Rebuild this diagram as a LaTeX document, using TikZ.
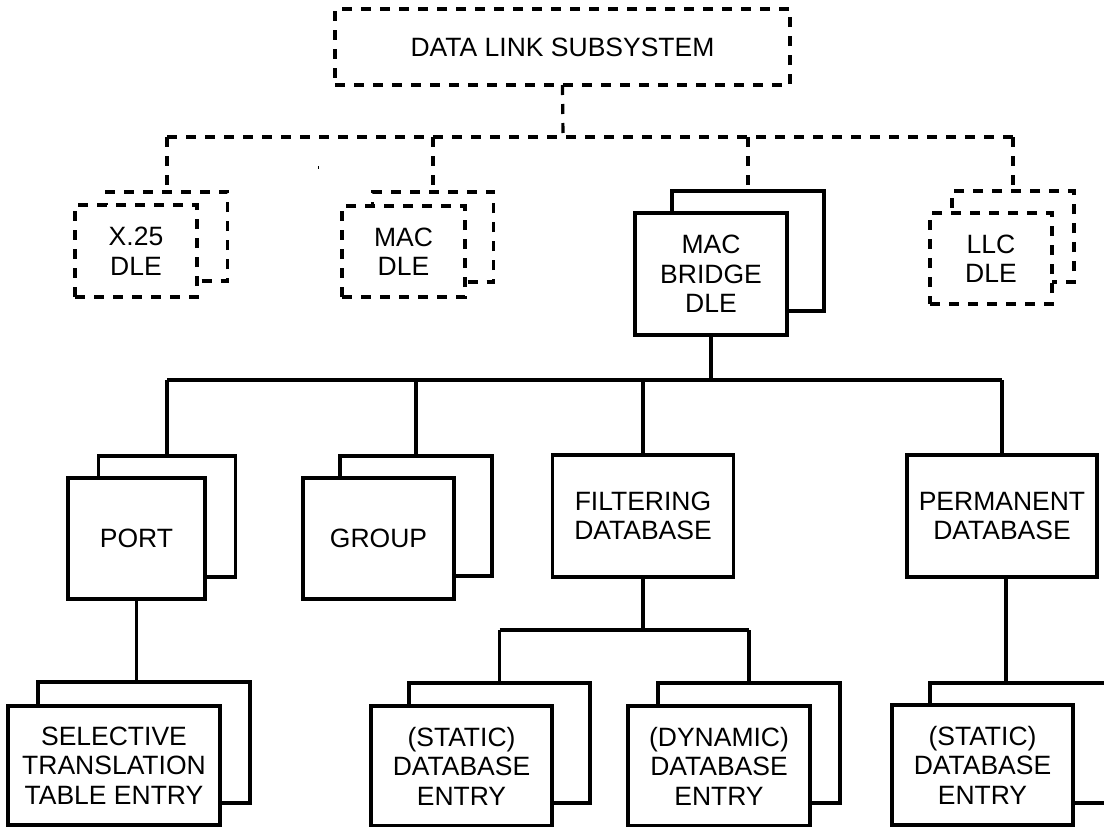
\documentclass[tikz,border=0pt]{standalone}
\usepackage{fontspec}
\setmainfont{Liberation Sans}
\begin{document}
\begin{tikzpicture}[x=1pt,y=-1pt,
  line width=3.2pt,
  box/.style={draw, fill=white, rectangle, inner sep=0pt, outer sep=0pt, align=center,
    font=\fontsize{26.5}{29.5}\selectfont},
  dl/.style={dash pattern=on 10pt off 9pt},
  sz/.style 2 args={minimum width=#1pt, minimum height=#2pt}
]
\useasboundingbox (0,0) rectangle (1104,827);
\clip (0,0) rectangle (1104,827);

% top
\node[box,dl,sz={455}{76}] (top) at (562.5,47) {DATA LINK SUBSYSTEM};

% DLE level
\node[box,dl,sz={121}{89}] (x25b) at (167,236.5) {};
\node[box,dl,sz={122}{92}] (x25f) at (136,251) {X.25\\DLE};
\node[box,dl,sz={121}{90}] (macb) at (433,237) {};
\node[box,dl,sz={123}{91}] (macf) at (403.5,251.5) {MAC\\DLE};
\node[box,sz={152}{120}] (mbb) at (748,251) {};
\node[box,sz={152}{122}] (mbf) at (711,274) {MAC\\BRIDGE\\DLE};
\node[box,dl,sz={122}{91}] (llcb) at (1013,236.5) {};
\node[box,dl,sz={122}{91}] (llcf) at (991,258.5) {LLC\\DLE};

% second level
\node[box,sz={137}{121}] (portb) at (167,516.5) {};
\node[box,sz={137}{121}] (portf) at (136.5,538.5) {PORT};
\node[box,sz={152}{120}] (groupb) at (416,516) {};
\node[box,sz={151}{121}] (groupf) at (378.5,538.5) {GROUP};
\node[box,sz={181}{122}] (filt) at (643,516) {FILTERING\\DATABASE};
\node[box,sz={190}{122}] (perm) at (1002,516) {PERMANENT\\DATABASE};

% third level
\node[box,sz={212}{121}] (selb) at (144,742.5) {};
\node[box,sz={212}{119}] (self) at (114,765.5) {SELECTIVE\\TRANSLATION\\TABLE ENTRY};
\node[box,sz={181}{120}] (statb) at (499.5,743) {};
\node[box,sz={181}{120}] (statf) at (461.5,766) {(STATIC)\\DATABASE\\ENTRY};
\node[box,sz={182}{120}] (dynb) at (749,743) {};
\node[box,sz={182}{120}] (dynf) at (719,766) {(DYNAMIC)\\DATABASE\\ENTRY};
\node[box,sz={181}{120}] (stbb) at (1020.5,743) {};
\node[box,sz={181}{120}] (stbf) at (982.5,765) {(STATIC)\\DATABASE\\ENTRY};

% dashed connectors
\coordinate (b1) at (563,137);
\draw[dl] (top.south) -- (b1);
\draw[dl] (x25b.north |- b1) -- (llcb.north |- b1);
\draw[dl] (x25b.north |- b1) -- (x25b.north);
\draw[dl] (macb.north |- b1) -- (macb.north);
\draw[dl] (mbb.north |- b1) -- (mbb.north);
\draw[dl] (llcb.north |- b1) -- (llcb.north);
\draw[line width=1pt] (318,166) -- (318,169);

% solid connectors
\coordinate (b2) at (711,380);
\draw (mbf.south) -- (b2);
\draw (portb.north |- b2) -- (perm.north |- b2);
\draw (portb.north |- b2) -- (portb.north);
\draw (groupb.north |- b2) -- (groupb.north);
\draw (filt.north |- b2) -- (filt.north);
\draw (perm.north |- b2) -- (perm.north);

\draw (portf.south) -- (portf.south |- selb.north);
\coordinate (b3) at (643,630);
\draw (filt.south) -- (b3);
\draw (statb.north |- b3) -- (dynb.north |- b3);
\draw (statb.north |- b3) -- (statb.north);
\draw (dynb.north |- b3) -- (dynb.north);
\draw ([xshift=4pt]perm.south) -- ([xshift=4pt]perm.south |- stbb.north);
\end{tikzpicture}
\end{document}
